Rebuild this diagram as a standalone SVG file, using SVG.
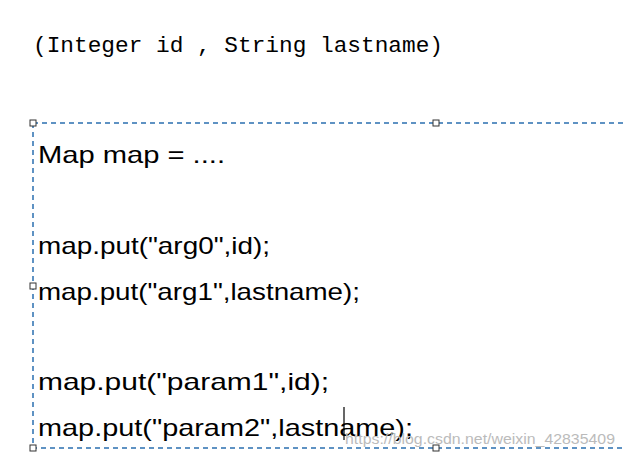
<svg xmlns="http://www.w3.org/2000/svg" width="625" height="457" viewBox="0 0 625 457">
<style>
.c{font-family:"Liberation Sans",Arial,sans-serif;font-size:24px;fill:#000}
.h{fill:#fff;stroke:#333;stroke-width:1}
</style>
<rect width="625" height="457" fill="#fff"/>
<text x="33" y="52" font-family="Liberation Mono,monospace" font-size="22.8" textLength="410" lengthAdjust="spacingAndGlyphs">(Integer id , String lastname)</text>
<g id="box">
<rect x="33" y="123" width="600" height="325" fill="none" stroke="#2a6fb0" stroke-width="1.5" stroke-dasharray="5,4"/>
<rect class="h" x="30" y="120" width="6" height="6"/>
<rect class="h" x="433" y="120" width="6" height="6"/>
<rect class="h" x="30" y="283" width="6" height="6"/>
<rect class="h" x="30" y="445" width="6" height="6"/>
<rect class="h" x="433" y="445" width="6" height="6"/>
</g>
<g id="code">
<text class="c" x="38" y="163" textLength="187" lengthAdjust="spacingAndGlyphs">Map map = ....</text>
<text class="c" x="38" y="254" textLength="232" lengthAdjust="spacingAndGlyphs">map.put("arg0",id);</text>
<text class="c" x="38" y="300" textLength="322" lengthAdjust="spacingAndGlyphs">map.put("arg1",lastname);</text>
<text class="c" x="38" y="390" textLength="291" lengthAdjust="spacingAndGlyphs">map.put("param1",id);</text>
<text class="c" x="38" y="436" textLength="375" lengthAdjust="spacingAndGlyphs">map.put("param2",lastname);</text>
</g>
<line x1="344" y1="407" x2="344" y2="440" stroke="#000" stroke-width="1.2"/>
<text x="345" y="444" font-family="Liberation Sans,sans-serif" font-size="15" fill="#bbb" textLength="270" lengthAdjust="spacingAndGlyphs">https://blog.csdn.net/weixin_42835409</text>
</svg>
